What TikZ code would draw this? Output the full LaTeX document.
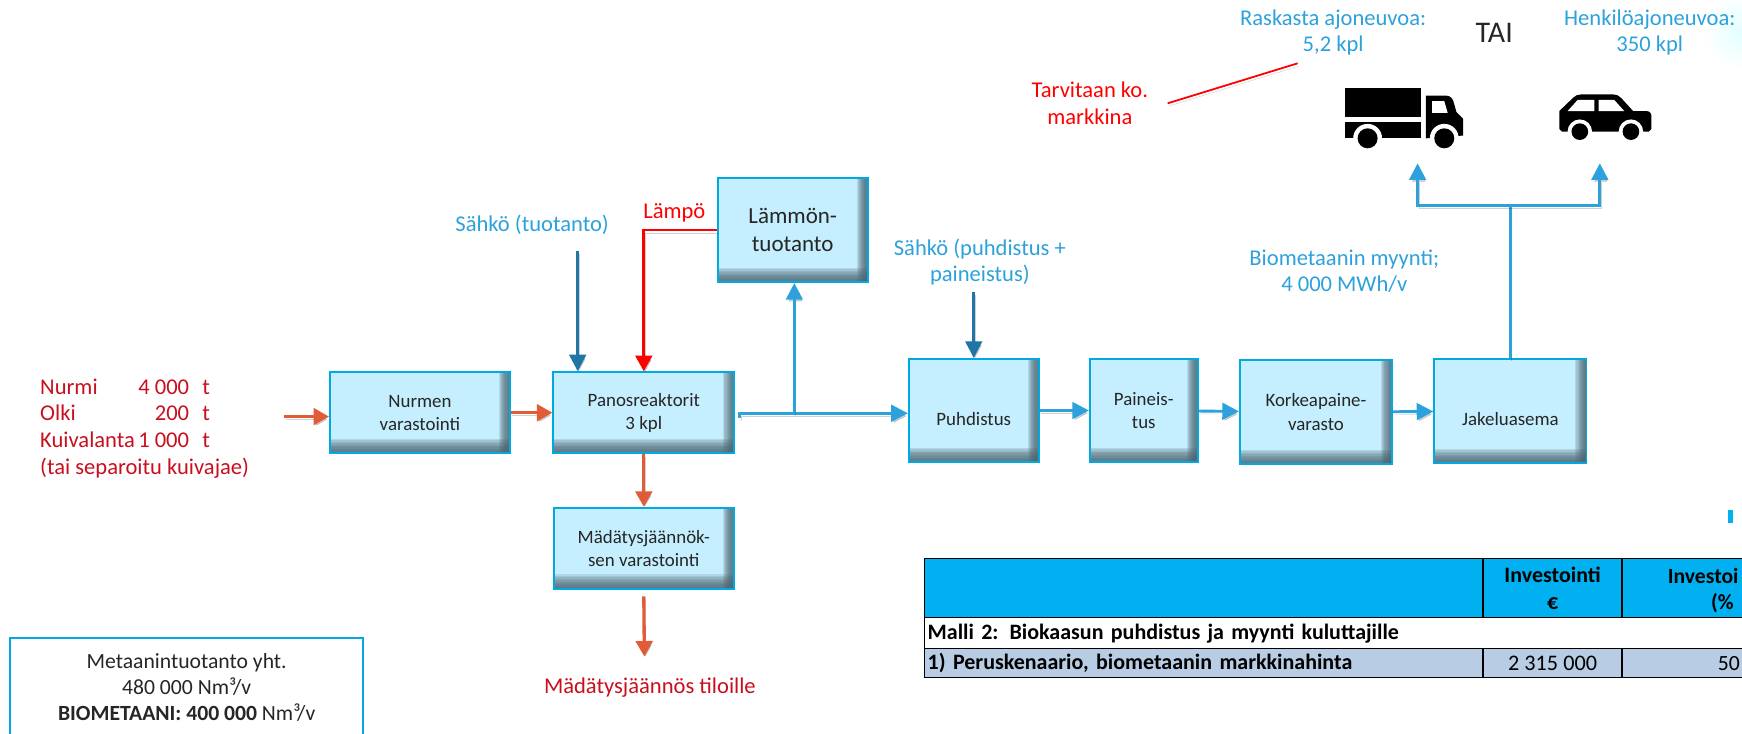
\documentclass[tikz,border=0pt]{standalone}
\usepackage{fontspec}
\setmainfont{Carlito}
\usetikzlibrary{arrows.meta}
\definecolor{boxline}{HTML}{00A9E0}
\definecolor{boxfill}{HTML}{C5EFFF}
\definecolor{boxedge}{HTML}{4F6672}
\definecolor{orangeline}{HTML}{E15B37}
\definecolor{skyline}{HTML}{2CA1DB}
\definecolor{powerline}{HTML}{1F76A6}
\definecolor{feedred}{HTML}{C80F1E}
\definecolor{headcyan}{HTML}{00B0F0}
\definecolor{rowblue}{HTML}{B8CCE4}
\tikzset{
  procbox/.style={draw=boxline, line width=1.6pt, fill=boxfill, align=center, inner sep=0pt,
    font=\fontsize{17}{21}\selectfont, text=black!85,
    path picture={
      \foreach \k in {1,...,10} {
        \fill[boxedge, opacity=.17] ([xshift=-\k pt]path picture bounding box.north east) rectangle (path picture bounding box.south east);
        \fill[boxedge, opacity=.17] ([yshift=1.3*\k pt]path picture bounding box.south west) rectangle (path picture bounding box.south east);
      }
    }},
  lowered/.style={execute at begin node={\rule{0pt}{#1}}},
  bluetext/.style={text=skyline, align=center, font=\fontsize{20.3}{23.5}\selectfont},
  redtext/.style={text=feedred, align=center, font=\fontsize{20.3}{24}\selectfont},
  cell/.style={draw=black, line width=1.2pt, inner sep=0pt, font=\fontsize{19.8}{24}\selectfont\bfseries},
  soft/.style={preaction={draw=black, opacity=.18, transform canvas={xshift=1pt,yshift=-2.5pt}}},
  orangearrow/.style={-{Triangle[length=14pt,width=15pt]}, line width=3pt, draw=orangeline, soft},
  skyarrow/.style={-{Triangle[length=15pt,width=15pt]}, line width=2.6pt, draw=skyline, soft},
  powerarrow/.style={-{Triangle[length=15pt,width=15pt]}, line width=2.6pt, draw=powerline, soft},
  redarrow/.style={-{Triangle[length=14pt,width=15pt]}, line width=2.4pt, draw=red, soft},
}
\begin{document}
\begin{tikzpicture}[x=1pt, y=1pt, node distance=100pt]
      \useasboundingbox (0,0) rectangle (1568,-659.8);
      \shade[inner color=cyan!12, outer color=white] (1568,-28) circle (34);

      \node[procbox, lowered=27pt, minimum width=162pt, minimum height=73pt] (nurmen) at (378,-371.5) {Nurmen\\varastointi};
      \node[procbox, lowered=27pt, minimum width=163pt, minimum height=73pt, right of=nurmen, xshift=101.5pt] (panos) {Panosreaktorit\\3 kpl};
      \node[procbox, lowered=29pt, minimum width=162pt, minimum height=73pt, below of=panos, yshift=-22pt] (mad) {Mädätysjäännök-\\sen varastointi};
      \node[procbox, minimum width=135pt, minimum height=94pt, above of=panos, xshift=134pt, yshift=64.5pt, font=\fontsize{20.7}{26}\selectfont] (lammon) {Lämmön-\\tuotanto};
      \node[procbox, lowered=27pt, minimum width=117pt, minimum height=93pt, right of=panos, xshift=197pt, yshift=2pt] (puh) {Puhdistus};
      \node[procbox, lowered=21pt, minimum width=97pt, minimum height=93pt, right of=puh, xshift=53pt] (paine) {Paineis-\\tus};
      \node[procbox, lowered=24pt, minimum width=137pt, minimum height=94pt, right of=paine, xshift=55pt, yshift=-1.5pt] (korkea) {Korkeapaine-\\varasto};
      \node[procbox, lowered=27pt, minimum width=137pt, minimum height=94pt, right of=korkea, xshift=75pt, yshift=1pt] (jakelu) {Jakeluasema};

      \node[redtext, align=left, anchor=west, inner sep=0pt] (syote) at (36,-386) {\begin{tabular}{@{}l@{\hspace{3pt}}r@{\hspace{12pt}}l@{}}
        Nurmi & 4 000 & t\\ Olki & 200 & t\\ Kuivalanta & 1 000 & t\\ \multicolumn{3}{@{}l@{}}{(tai separoitu kuivajae)}
      \end{tabular}};
      \node[bluetext] (sahkot) at (479,-202) {Sähkö (tuotanto)};
      \node[redtext, text=red] (lampo) at (607,-192) {Lämpö};
      \node[bluetext] (sahkop) at (882,-236) {Sähkö (puhdistus +\\paineistus)};
      \node[bluetext] (myynti) at (1210,-244) {Biometaanin myynti;\\4 000 MWh/v};
      \node[bluetext] (raskas) at (1200,-29) {Raskasta ajoneuvoa:\\5,2 kpl};
      \node[font=\fontsize{27}{30}\selectfont, text=black!85] (tai) at (1345,-30) {TAI};
      \node[bluetext] (henk) at (1485,-29) {Henkilöajoneuvoa:\\350 kpl};
      \node[redtext, text=red] (tarve) at (981,-93) {Tarvitaan ko.\\markkina};
      \node[redtext] (tiloille) at (585,-619) {Mädätysjäännös tiloille};

      \node[draw=boxline, line width=1.6pt, fill=white, minimum width=318pt, minimum height=90pt, align=center, inner sep=0pt,
        font=\fontsize{19.5}{23.5}\selectfont, text=black!85] (metaani) at (168,-619) {Metaanintuotanto yht.\\480 000 Nm³/v\\\textbf{BIOMETAANI: 400 000} Nm³/v};

      \coordinate (feed) at (256,-375);
      \coordinate (sahkoa) at (520,-226);
      \coordinate (sahkob) at (876.5,-263);
      \coordinate (gastick) at (666,-376);
      \coordinate (gasout) at (666,-372);
      \coordinate (branch) at (715,-372);
      \coordinate (madend) at (580,-591);
      \coordinate (junction) at (1359.5,-185);
      \coordinate (truckend) at (1276,-147);
      \coordinate (carend) at (1440,-147);
      \coordinate (tarvea) at (1051,-93);
      \coordinate (tarveb) at (1168,-57);

      \draw[orangearrow] (feed)--(feed -| nurmen.west);
      \draw[orangearrow] (nurmen)--(panos);
      \draw[orangearrow] (panos)--(mad);
      \draw[orangearrow] ([yshift=-6pt]mad.south)--(madend);
      \draw[powerarrow] (sahkoa)--(sahkoa |- panos.north);
      \draw[redarrow] (lammon.west) -| (panos.north);
      \draw[skyarrow] (gastick)--(gasout)--(gasout -| puh.west);
      \draw[skyarrow] (branch)--(branch |- lammon.south);
      \draw[powerarrow] (sahkob)--(puh.north);
      \draw[skyarrow] (puh)--(paine);
      \draw[skyarrow] (paine)--(korkea);
      \draw[skyarrow] (korkea)--(jakelu);
      \draw[line width=2.6pt, draw=skyline, soft] (jakelu.north)--(junction);
      \draw[skyarrow] (junction) -| (truckend);
      \draw[skyarrow] (junction) -| (carend);
      \draw[line width=1.6pt, draw=red, soft] (tarvea)--(tarveb);

      \fill[headcyan] (1555,-459) rectangle (1560,-471);

      \fill[black] (1211,-79) rectangle (1279,-105);
      \fill[black] (1211,-110) rectangle (1279,-124.5);
      \fill[black] (1283.5,-86) -- (1301,-86) .. controls (1306,-86) and (1308,-89) .. (1309,-94) -- (1311,-101) -- (1317,-107) -- (1317,-122) -- (1283.5,-124.5) -- cycle;
      \fill[white] (1289,-91) -- (1300,-91) -- (1303,-101.5) -- (1289,-101.5) -- cycle;
      \fill[white] (1231,-124.5) circle (13) (1300,-124.5) circle (13);
      \fill[black] (1231,-124.5) circle (9) (1300,-124.5) circle (9);

      \fill[black] (1403.5,-100) -- (1416,-88) .. controls (1418,-86) and (1420,-85) .. (1423,-85) -- (1452,-85) .. controls (1455,-85) and (1457,-86) .. (1459,-88) -- (1470,-100) -- (1482,-100) .. controls (1485,-100) and (1486.5,-102) .. (1486.5,-105) -- (1486.5,-116) -- (1484,-118.5) -- (1406,-118.5) -- (1403.5,-116) -- cycle;
      \fill[white] (1411,-100) -- (1420,-90) -- (1435,-90) -- (1435,-100) -- cycle;
      \fill[white] (1439,-90) -- (1453,-90) -- (1462,-100) -- (1439,-100) -- cycle;
      \fill[white] (1422,-118.5) circle (11) (1468,-118.5) circle (11);
      \fill[black] (1422,-118.5) circle (7.5) (1468,-118.5) circle (7.5);

      \node[cell, fill=headcyan, minimum width=503pt, minimum height=53pt] (headblank) at (1083.5,-529.5) {};
      \node[cell, fill=headcyan, minimum width=125pt, minimum height=53pt, align=center, right of=headblank, xshift=214pt] (headinv) {Investointi\\€};
      \node[cell, fill=headcyan, minimum width=140pt, minimum height=53pt, right of=headinv, xshift=32.5pt] (headpct) {};
      \node[cell, fill=white, minimum width=768pt, minimum height=28pt, text width=762pt, align=left, below of=headblank, xshift=132.5pt, yshift=59.5pt] (malli) {Malli 2: Biokaasun puhdistus ja myynti kuluttajille};
      \node[cell, fill=rowblue, minimum width=503pt, minimum height=26pt, text width=497pt, align=left] (perus) at (1083.5,-597) {1) Peruskenaario, biometaanin markkinahinta};
      \node[cell, fill=rowblue, minimum width=125pt, minimum height=26pt, font=\fontsize{20}{24}\selectfont] (perusinv) at (1397.5,-597) {2 315 000};
      \node[cell, fill=rowblue, minimum width=140pt, minimum height=26pt] (peruspct) at (1530,-597) {};
      \node[font=\fontsize{19.5}{24}\selectfont\bfseries, anchor=west, inner sep=0pt] (pcta) at (1501,-518) {Investoi};
      \node[font=\fontsize{19.5}{24}\selectfont\bfseries, anchor=west, inner sep=0pt] (pctb) at (1540,-543) {(\%};
      \node[font=\fontsize{19.5}{24}\selectfont, anchor=west, inner sep=0pt] (pctc) at (1546,-597) {50};
    \end{tikzpicture}
\end{document}
